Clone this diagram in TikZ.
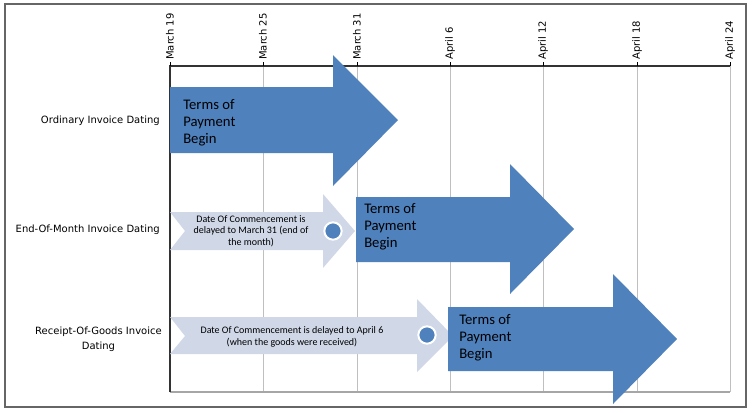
\documentclass[tikz,border=0pt]{standalone}
\usepackage{fontspec}
\usepackage{xcolor}
\usepackage{tikz}
\usetikzlibrary{positioning}
\newfontfamily\labelfont{DejaVu Sans}
\newfontfamily\bodyfont{Carlito}
\definecolor{TermBlue}{HTML}{4F81BD}
\definecolor{DelayGrey}{HTML}{D0D8E8}
\definecolor{GridGrey}{HTML}{BFBFBF}

\begin{document}
\begin{tikzpicture}[x=0.75pt,y=-0.75pt,
  datelabel/.style={rotate=90,anchor=west,inner sep=0pt,font=\labelfont\fontsize{7.5}{9}\selectfont},
  rowlabel/.style={anchor=east,align=center,inner sep=0pt,font=\labelfont\fontsize{7.5}{11}\selectfont},
  terms/.style={fill=TermBlue,draw=none},
  delay/.style={fill=DelayGrey,draw=none},
  termstext/.style={anchor=west,align=left,inner sep=0pt,font=\bodyfont\fontsize{11}{12.8}\selectfont},
  delaytext/.style={align=center,inner sep=0pt,font=\bodyfont\fontsize{7.5}{8.6}\selectfont},
  dot/.style={circle,fill=TermBlue,draw=white,line width=1.5pt,minimum size=13pt,inner sep=0pt},
  grid/.style={draw=GridGrey,line width=0.75pt}]

\useasboundingbox (0,0) rectangle (754,412);
\draw[draw=black!60,line width=1.2pt] (5,4) rectangle (746,407);

\draw[grid] (263,66) -- (263,392);
\draw[grid] (357,66) -- (357,392);
\draw[grid] (450,66) -- (450,392);
\draw[grid] (543,66) -- (543,392);
\draw[grid] (637,66) -- (637,392);
\draw[grid] (730,66) -- (730,392);
\draw[draw=black!35,line width=0.9pt] (170,392) -- (730,392);
\draw[draw=black!80,line width=0.9pt] (170,392) -- (170,66) -- (730,66);

\draw[line width=0.75pt] (170,66) -- (170,62);
\draw[line width=0.75pt] (263,66) -- (263,62);
\draw[line width=0.75pt] (357,66) -- (357,62);
\draw[line width=0.75pt] (450,66) -- (450,62);
\draw[line width=0.75pt] (543,66) -- (543,62);
\draw[line width=0.75pt] (637,66) -- (637,62);
\draw[line width=0.75pt] (730,66) -- (730,62);

\node[datelabel] (D1) at (170,60) {March 19};
\node[datelabel] (D2) at (263,60) {March 25};
\node[datelabel] (D3) at (357,60) {March 31};
\node[datelabel] (D4) at (450,60) {April 6};
\node[datelabel] (D5) at (543,60) {April 12};
\node[datelabel] (D6) at (637,60) {April 18};
\node[datelabel] (D7) at (730,60) {April 24};

\node[rowlabel] (R1) at (160,121) {Ordinary Invoice Dating};
\node[rowlabel] (R2) at (160,230) {End-Of-Month Invoice Dating};
\node[rowlabel] (R3) at (162,339) {Receipt-Of-Goods Invoice\\Dating};

\fill[terms] (170,87) -- (333,87) -- (333,55) -- (398,120) -- (333,186) -- (333,153) -- (170,153) -- cycle;
\node[termstext] (T1) at (183,123) {Terms of\\Payment\\Begin};

\fill[delay] (170,212) -- (323,212) -- (323,194) -- (355,231) -- (323,268) -- (323,250) -- (170,250) -- (185,231) -- cycle;
\node[delaytext] (L2) at (251,231) {Date Of Commencement is\\delayed to March 31 (end of\\the month)};
\node[dot] (C2) at (333,231) {};
\fill[terms] (356,197) -- (510,197) -- (510,164) -- (574,229) -- (510,294) -- (510,262) -- (356,262) -- cycle;
\node[termstext] (T2) at (364,227) {Terms of\\Payment\\Begin};

\fill[delay] (170,317) -- (417,317) -- (417,299) -- (453,336) -- (417,372) -- (417,354) -- (170,354) -- (185,336) -- cycle;
\node[delaytext] (L3) at (292,337) {Date Of Commencement is delayed to April 6\\(when the goods were received)};
\node[dot] (C3) at (427,335) {};
\fill[terms] (448,307) -- (613,307) -- (613,274) -- (677,339) -- (613,404) -- (613,371) -- (448,371) -- cycle;
\node[termstext] (T3) at (459,338) {Terms of\\Payment\\Begin};

\end{tikzpicture}
\end{document}
